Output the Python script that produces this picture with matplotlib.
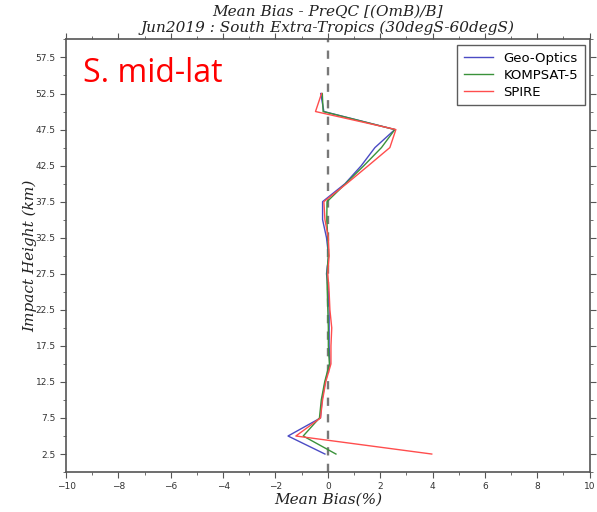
import matplotlib
matplotlib.use("Agg")
import matplotlib.pyplot as plt
from matplotlib.ticker import MultipleLocator, FixedLocator

heights = [2.5, 5, 7.5, 10, 12.5, 15, 17.5, 20, 22.5, 25, 27.5, 30, 32.5, 35, 37.5, 40, 42.5, 45, 47.5, 50, 52.5]
geo_optics = [-0.11, -1.52, -0.28, -0.22, -0.10, 0.08, 0.05, 0.05, 0.05, 0.02, -0.05, 0.03, -0.05, -0.20, -0.20, 0.66, 1.28, 1.80, 2.56, -0.15, -0.27]
kompsat5 = [0.31, -0.94, -0.32, -0.25, -0.12, 0.06, 0.02, 0.02, 0.00, -0.02, -0.03, 0.02, 0.00, -0.04, -0.03, 0.68, 1.38, 2.05, 2.56, -0.18, -0.21]
spire = [3.97, -1.22, -0.28, -0.20, -0.08, 0.12, 0.12, 0.15, 0.08, 0.05, 0.00, 0.05, 0.02, -0.11, -0.15, 0.72, 1.55, 2.37, 2.60, -0.47, -0.24]

series_names = ["Geo-Optics", "KOMPSAT-5", "SPIRE"]
series_colors = ["#4b4bc4", "#3a923a", "#ff4d4d"]

fig = plt.figure(figsize=(5.97, 5.12), dpi=100)
ax = fig.add_axes([0.1106, 0.078, 0.877, 0.845])

for vals, name, col in zip([geo_optics, kompsat5, spire], series_names, series_colors):
    ax.plot(vals, heights, color=col, lw=1.0, label=name)

ax.plot([0, 0], [0, 60], color="#787878", lw=1.7, ls=(0, (3.5, 3.5)), zorder=0)

ax.set_xlim(-10, 10)
ax.set_ylim(0, 60)
ax.xaxis.set_major_locator(MultipleLocator(2))
ax.xaxis.set_minor_locator(MultipleLocator(1))
ax.yaxis.set_major_locator(FixedLocator([2.5 + 5 * i for i in range(12)]))
ax.yaxis.set_minor_locator(MultipleLocator(5))
ax.yaxis.set_major_formatter(matplotlib.ticker.FormatStrFormatter("%.1f"))

ax.tick_params(which="both", direction="out", top=True, right=True, labelsize=6.5,
               labelcolor="#333333", color="#555555")
ax.tick_params(which="major", length=4)
ax.tick_params(which="minor", length=2.5)
for s in ax.spines.values():
    s.set_color("#555555")
    s.set_linewidth(1.2)

serif = dict(family="DejaVu Serif", style="italic", color="#222222")
ax.set_title("Mean Bias - PreQC [(OmB)/B]\nJun2019 : South Extra-Tropics (30degS-60degS)",
             fontsize=11, linespacing=1.2, pad=5, **serif)
ax.set_xlabel("Mean Bias(%)", fontsize=11, labelpad=1, **serif)
ax.set_ylabel("Impact Height (km)", fontsize=11, labelpad=-1, **serif)

ax.text(0.032, 0.922, "S. mid-lat", transform=ax.transAxes, color="#ff0000",
        fontsize=23, family="Open Sans", ha="left", va="center")

leg = ax.legend(loc="upper right", fontsize=9.5, frameon=True, fancybox=False,
                handlelength=2.2, borderpad=0.5, labelspacing=0.3, borderaxespad=0,
                bbox_to_anchor=(0.9905, 0.987))
leg.get_frame().set_edgecolor("#333333")
leg.get_frame().set_linewidth(1.0)

fig.savefig("out.png", dpi=100)
